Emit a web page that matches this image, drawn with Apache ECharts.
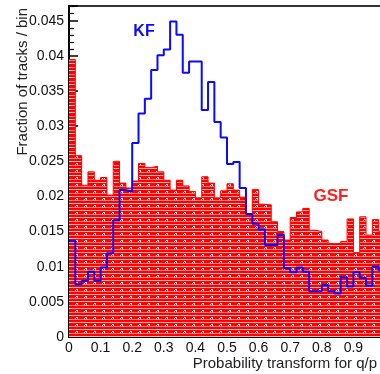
<!DOCTYPE html>
<html><head><meta charset="utf-8">
<script src="https://cdn.jsdelivr.net/npm/echarts@6/dist/echarts.min.js"></script>
<style>html,body{margin:0;padding:0;background:#fff}#c{width:380px;height:374px}</style>
</head><body><div id="c"></div>
<script>
// Histogram: 50 bins of width 0.02 over [0,1]
const binWidth = 0.02;
const gsfValues = [0.0395,0.0258,0.0216,0.0235,0.0223,0.0227,0.0202,0.0250,0.0219,0.0212,
  0.0222,0.0247,0.0241,0.0243,0.0235,0.0223,0.0209,0.0223,0.0215,0.0207,
  0.0198,0.0228,0.0219,0.0198,0.0208,0.0218,0.0209,0.0199,0.0175,0.0210,
  0.0189,0.0188,0.0164,0.0150,0.0138,0.0170,0.0178,0.0183,0.0152,0.0150,
  0.0138,0.0133,0.0133,0.0136,0.0168,0.0120,0.0171,0.0145,0.0167,0.0150];
const kfValues = [0.0137,0.0075,0.0080,0.0093,0.0080,0.0099,0.0119,0.0166,0.0209,0.0207,
  0.0276,0.0318,0.0339,0.0380,0.0401,0.0409,0.0449,0.0430,0.0376,0.0392,
  0.0392,0.0323,0.0363,0.0306,0.0284,0.0246,0.0249,0.0212,0.0175,0.0161,
  0.0153,0.0131,0.0131,0.0145,0.0098,0.0092,0.0099,0.0093,0.0065,0.0065,
  0.0074,0.0065,0.0062,0.0085,0.0072,0.0092,0.0084,0.0073,0.0100,0.0095];
const seriesNames = ['GSF', 'KF'];
const xTitle = 'Probability transform for q/p';
const yTitle = 'Fraction of tracks / bin';

function stepData(vals){
  const d = vals.map((v,i)=>[+(i*binWidth).toFixed(4), v]);
  d.push([+(vals.length*binWidth).toFixed(4), vals[vals.length-1]]);
  return d;
}
function makePattern(){
  const c = document.createElement('canvas'); c.width = 9; c.height = 7;
  const g = c.getContext('2d');
  g.fillStyle = '#ff0000'; g.fillRect(0,0,9,7);
  g.fillStyle = 'rgba(255,255,255,0.7)'; g.fillRect(0,0,9,1);
  g.fillStyle = 'rgba(255,255,255,0.5)'; g.fillRect(0,4,9,1);
  g.fillStyle = 'rgba(255,255,255,0.9)';
  g.fillRect(4,2,2,1); g.fillRect(3,3,1,1); g.fillRect(5,3,1,1);
  return c;
}
const chart = echarts.init(document.getElementById('c'), null, {renderer:'canvas'});
const font = '"Liberation Sans", Arial, Helvetica, sans-serif';
chart.setOption({
  animation:false,
  grid:{left:69, top:6, width:316, height:331, outerBoundsMode:'none', containLabel:false,
    show:true, borderColor:'#333', borderWidth:2, backgroundColor:'transparent'},
  xAxis:{type:'value', min:0, max:1, interval:0.1,
    axisLine:{show:true, lineStyle:{color:'#000', width:2}},
    axisTick:{inside:true, length:8, lineStyle:{color:'#000', width:1.5}},
    minorTick:{show:true, splitNumber:5, length:4, lineStyle:{color:'#000', width:1.2}},
    splitLine:{show:false},
    axisLabel:{fontFamily:font, fontSize:14, color:'#111', margin:4}
  },
  yAxis:{type:'value', min:0, max:0.0471, interval:0.005,
    axisLine:{show:true, lineStyle:{color:'#000', width:2}},
    axisTick:{inside:true, length:9, lineStyle:{color:'#000', width:1.5}},
    minorTick:{show:true, splitNumber:5, length:5, lineStyle:{color:'#000', width:1.2}},
    splitLine:{show:false},
    axisLabel:{fontFamily:font, fontSize:14, color:'#111', margin:5, showMaxLabel:false}
  },
  series:[
    {name:seriesNames[0], type:'line', step:'end', data:stepData(gsfValues), symbol:'none',
     lineStyle:{color:'#ff0000', width:1}, areaStyle:{color:{image:makePattern(), repeat:'repeat'}, opacity:1}, z:2},
    {name:seriesNames[1], type:'line', step:'end', data:stepData(kfValues), symbol:'none',
     lineStyle:{color:'#0a0aff', width:2}, z:3}
  ],
  graphic:[
    {type:'text', x:23, y:8, rotation:Math.PI/2, style:{text:yTitle, font:'15px '+font, fill:'#222', textAlign:'right', textVerticalAlign:'middle'}},
    {type:'text', x:377, y:364, style:{text:xTitle, font:'15px '+font, fill:'#222', textAlign:'right', textVerticalAlign:'middle'}},
    {type:'text', x:144, y:32, z:10, style:{text:seriesNames[1], font:'bold 16px '+font, fill:'#0a0aff', textAlign:'center', textVerticalAlign:'middle'}},
    {type:'text', x:331, y:196, z:10, style:{text:seriesNames[0], font:'bold 17px '+font, fill:'#ff2020', textAlign:'center', textVerticalAlign:'middle'}}
  ]
});
</script></body></html>
